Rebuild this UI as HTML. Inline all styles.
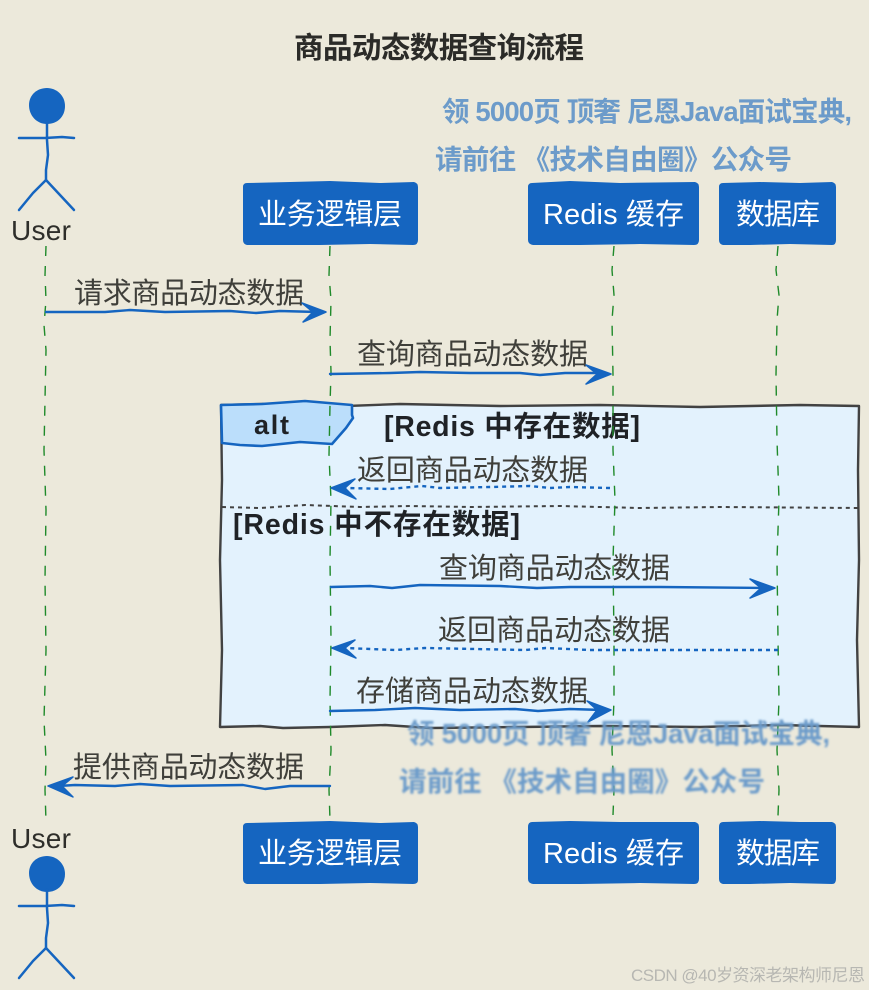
<!DOCTYPE html>
<html lang="zh">
<head>
<meta charset="utf-8">
<style>
html,body{margin:0;padding:0;background:#ECE9DB;}
svg{display:block;}
text{font-family:"Liberation Sans","Noto Sans CJK SC",sans-serif;}
.m{font-size:29px;fill:#3f3f3a;}
.w{font-size:27.5px;font-weight:700;fill:#6c9bca;}
.b{font-size:29px;fill:#fff;}
.f{font-size:28.5px;font-weight:700;fill:#1f2226;}
.l{fill:none;stroke:#1565C0;stroke-width:2.4;stroke-linejoin:round;stroke-linecap:round;}
.d{stroke-dasharray:4 4;stroke-linecap:butt;}
.ll{fill:none;stroke:#1f8a2a;stroke-width:1.4;stroke-dasharray:10 10;}
.a{fill:none;stroke:#1565C0;stroke-width:2.5;stroke-linecap:round;stroke-linejoin:round;}
.h{fill:#1565C0;stroke:#1565C0;stroke-width:1.5;stroke-linejoin:round;}
</style>
</head>
<body>
<svg width="869" height="990" viewBox="0 0 869 990" xmlns="http://www.w3.org/2000/svg">
<defs><filter id="blur" x="-5%" y="-30%" width="110%" height="160%"><feGaussianBlur stdDeviation="1"/></filter></defs>
<rect width="869" height="990" fill="#ECE9DB"/>

<text x="294" y="58" font-size="29.5" font-weight="700" fill="#2b2b28" textLength="290">商品动态数据查询流程</text>

<!-- top watermark -->
<text class="w" x="442" y="121" textLength="410">领 5000页 顶奢 尼恩Java面试宝典,</text>
<text class="w" x="435" y="169" textLength="357">请前往 《技术自由圈》公众号</text>

<!-- frame -->
<path d="M221,405 L262,404 L320,407 L400,404 L500,406 L600,405 L700,407 L800,405 L859,406 L858,470 L859,560 L857,640 L859,727 L780,725 L700,727 L600,726 L520,727 L430,728 L385,725 L330,727 L283,728 L260,726 L220,727 L222,650 L220,560 L222,480 Z" fill="#E3F2FD" stroke="#424242" stroke-width="2.4" stroke-linejoin="round"/>
<path d="M221,405 L262,404 L305,401 L352,405 L352,415 L353,418 L346,428 L332,444 L300,442 L262,446 L240,445 L222,443 Z" fill="#BBDEFB" stroke="#1565C0" stroke-width="2.6" stroke-linejoin="round"/>
<text class="f" x="254" y="434" textLength="35" style="font-size:27px">alt</text>
<text class="f" x="384" y="436" textLength="256">[Redis 中存在数据]</text>
<path d="M222,507 L260,508 L305,505 L360,507 L410,506 L470,507 L560,506 L640,508 L720,507 L859,508" fill="none" stroke="#424242" stroke-width="2" stroke-dasharray="4 4"/>
<text class="f" x="233" y="534" textLength="287">[Redis 中不存在数据]</text>

<!-- lifelines -->
<path class="ll" d="M46,246 L45,275 L46,300 L44,325 L46,350 L45,400 L44,450 L46,510 L45,580 L46,650 L44,720 L46,760 L45,790 L46,822"/>
<path class="ll" d="M330,246 L329,275 L331,300 L330,340 L331,372 L330,405 L329,455 L331,500 L330,560 L331,640 L330,700 L331,750 L329,790 L330,820"/>
<path class="ll" d="M614,246 L612,270 L614,295 L612,320 L613,375 L613,450 L615,500 L613,560 L614,640 L614,700 L612,750 L614,790 L613,815"/>
<path class="ll" d="M778,246 L776,270 L779,295 L777,320 L776,375 L777,440 L779,500 L777,560 L778,640 L779,700 L777,750 L779,790 L778,816"/>

<!-- top actor -->
<path d="M47,88 C56,88 65,95 65,106 C65,117 57,124 47,124 C37,124 29,116 29,105 C29,95 37,88 47,88 Z" fill="#1565C0"/>
<path class="a" d="M47,122 L47,140 L48,155 L46,170 L46,180"/>
<path class="a" d="M19,138 L45,138 L62,137 L74,138"/>
<path class="a" d="M46,180 L33,193 L19,210"/>
<path class="a" d="M46,180 L60,195 L74,210"/>
<text x="11" y="240" font-size="28" fill="#2e2e2a" textLength="60">User</text>

<!-- bottom actor -->
<path d="M47,856 C56,856 65,863 65,874 C65,885 57,892 47,892 C37,892 29,884 29,873 C29,863 37,856 47,856 Z" fill="#1565C0"/>
<path class="a" d="M47,890 L47,908 L48,923 L46,938 L46,948"/>
<path class="a" d="M19,906 L45,906 L62,905 L74,906"/>
<path class="a" d="M46,948 L33,961 L19,978"/>
<path class="a" d="M46,948 L60,963 L74,978"/>
<text x="11" y="848" font-size="28" fill="#2e2e2a" textLength="60">User</text>

<!-- boxes top -->
<path d="M247,183 L290,182 L330,181 L380,183 L414,182 Q418,183 418,187 L418,240 Q418,245 413,245 L370,244 L320,245 L247,245 Q243,244 243,240 L243,187 Q243,183 247,183 Z" fill="#1565C0"/>
<text class="b" x="258" y="224" textLength="144">业务逻辑层</text>
<path d="M532,183 L570,181 L620,183 L695,182 Q699,183 699,187 L699,240 Q699,245 694,245 L640,244 L580,245 L533,245 Q528,244 528,240 L528,187 Q528,183 532,183 Z" fill="#1565C0"/>
<text class="b" x="543" y="224" textLength="141">Redis 缓存</text>
<path d="M723,183 L760,182 L800,183 L832,182 Q836,183 836,187 L836,240 Q836,245 832,245 L790,244 L750,245 L723,245 Q719,244 719,240 L719,187 Q719,183 723,183 Z" fill="#1565C0"/>
<text class="b" x="736" y="224" textLength="84">数据库</text>

<!-- boxes bottom -->
<path d="M247,823 L290,822 L330,821 L380,823 L414,822 Q418,823 418,827 L418,880 Q418,884 413,884 L370,883 L320,884 L247,884 Q243,883 243,879 L243,827 Q243,823 247,823 Z" fill="#1565C0"/>
<text class="b" x="258" y="863" textLength="144">业务逻辑层</text>
<path d="M532,822 L570,821 L620,822 L695,822 Q699,823 699,827 L699,879 Q699,884 694,884 L640,883 L580,884 L533,884 Q528,883 528,879 L528,827 Q528,822 532,822 Z" fill="#1565C0"/>
<text class="b" x="543" y="863" textLength="141">Redis 缓存</text>
<path d="M723,822 L760,821 L800,822 L832,822 Q836,823 836,827 L836,879 Q836,884 832,884 L790,883 L750,884 L723,884 Q719,883 719,879 L719,827 Q719,822 723,822 Z" fill="#1565C0"/>
<text class="b" x="736" y="863" textLength="84">数据库</text>

<!-- messages -->
<text class="m" x="74" y="303" textLength="230">请求商品动态数据</text>
<path class="l" d="M46,312 L105,312 L130,310 L165,312 L230,311 L256,313 L280,311 L318,312"/>
<path class="h" d="M326,312 L302,303 L313,312 L303,322 Z"/>

<text class="m" x="357" y="364" textLength="231">查询商品动态数据</text>
<path class="l" d="M330,374 L390,373 L420,372 L470,373 L520,373 L540,375 L565,373 L603,373"/>
<path class="h" d="M611,374 L586,365 L597,374 L586,384 Z"/>

<text class="m" x="357" y="480" textLength="231">返回商品动态数据</text>
<path class="l d" d="M610,488 L570,487 L550,488 L530,486 L490,487 L440,488 L422,486 L390,489 L345,488"/>
<path class="h" d="M331,488 L355,479 L345,488 L356,499 Z"/>

<text class="m" x="439" y="578" textLength="231">查询商品动态数据</text>
<path class="l" d="M331,587 L370,586 L392,588 L420,585 L500,586 L537,588 L570,587 L620,587 L660,587 L766,588"/>
<path class="h" d="M775,588 L750,579 L761,588 L750,598 Z"/>

<text class="m" x="438" y="640" textLength="232">返回商品动态数据</text>
<path class="l d" d="M778,650 L700,650 L640,650 L590,650 L546,648 L525,650 L425,648 L395,650 L345,648"/>
<path class="h" d="M332,648 L355,640 L345,648 L356,658 Z"/>

<text class="m" x="356" y="701" textLength="232">存储商品动态数据</text>
<path class="l" d="M330,711 L375,710 L415,708 L460,710 L515,709 L538,711 L570,709 L603,710"/>
<path class="h" d="M611,710 L587,701 L597,710 L588,722 Z"/>

<text class="m" x="73" y="777" textLength="231">提供商品动态数据</text>
<path class="l" d="M330,786 L290,786 L265,789 L243,785 L170,786 L140,784 L115,786 L75,785 L58,786"/>
<path class="h" d="M48,786 L73,777 L62,786 L73,797 Z"/>

<!-- bottom watermark -->
<g filter="url(#blur)">
<text class="w" x="407" y="743" textLength="423">领 5000页 顶奢 尼恩Java面试宝典,</text>
<text class="w" x="399" y="791" textLength="366">请前往 《技术自由圈》公众号</text>
</g>

<text x="631" y="981" font-size="17" fill="#b7b7b2" textLength="234">CSDN @40岁资深老架构师尼恩</text>
</svg>
</body>
</html>
